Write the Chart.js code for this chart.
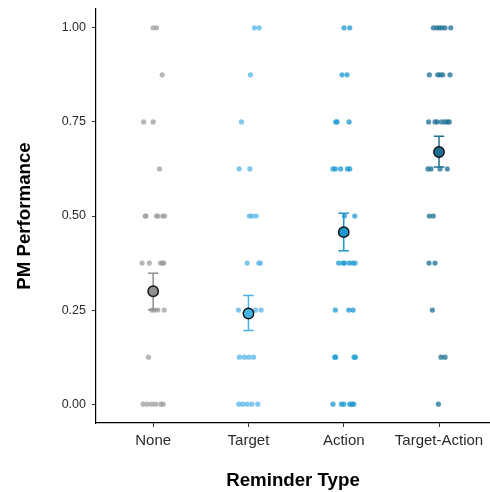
<!DOCTYPE html>
<html>
<head>
<meta charset="utf-8">
<script src="https://cdn.jsdelivr.net/npm/chart.js@4.4.1/dist/chart.umd.min.js"></script>
<style>
  html, body { margin: 0; padding: 0; background: #ffffff; }
  #wrap { width: 490px; height: 492px; }
</style>
</head>
<body>
<div id="wrap"><canvas id="myChart"></canvas></div>
<script>
// Categorías del eje X
const categories = ['None', 'Target', 'Action', 'Target-Action'];
const yTicks = [0, 0.25, 0.5, 0.75, 1];

// Puntuaciones individuales (y) y su desplazamiento horizontal (jitter) por grupo
const noneScores = [1, 1, 0.875, 0.75, 0.75, 0.625, 0.5, 0.5, 0.5, 0.5, 0.5, 0.5,
  0.375, 0.375, 0.375, 0.375, 0.375, 0.25, 0.25, 0.25, 0.25, 0.125, 0, 0, 0, 0, 0, 0];
const noneJitter = [0.0, 0.035, 0.095, -0.10, 0.0, 0.066, -0.084, -0.075, 0.035, 0.05, 0.10, 0.12,
  -0.116, -0.04, 0.077, 0.098, 0.112, -0.014, 0.01, 0.049, 0.116, -0.049, -0.105, -0.06, -0.014, 0.028, 0.08, 0.105];

const targetScores = [1, 1, 0.875, 0.75, 0.625, 0.625, 0.5, 0.5, 0.5, 0.375, 0.375, 0.375,
  0.25, 0.25, 0.25, 0.125, 0.125, 0.125, 0.125, 0, 0, 0, 0, 0];
const targetJitter = [0.063, 0.112, 0.021, -0.074, -0.098, 0.014, 0.01, 0.035, 0.081, -0.014, 0.109, 0.126,
  -0.105, 0.074, 0.133, -0.095, -0.042, 0.004, 0.053, -0.102, -0.06, -0.014, 0.035, 0.098];

const actionScores = [1, 1, 0.875, 0.875, 0.75, 0.75, 0.75, 0.625, 0.625, 0.625, 0.625, 0.625,
  0.5, 0.5, 0.375, 0.375, 0.375, 0.375, 0.375, 0.375, 0.25, 0.25, 0.25,
  0.125, 0.125, 0.125, 0.125, 0, 0, 0, 0, 0, 0];
const actionJitter = [0.003, 0.063, -0.018, 0.035, -0.084, -0.07, 0.056, -0.113, -0.088, -0.032, 0.039, 0.063,
  0.007, 0.116, -0.053, -0.007, 0.007, 0.056, 0.091, 0.119, -0.088, 0.053, 0.098,
  -0.095, -0.084, 0.108, 0.123, -0.113, -0.024, 0.0, 0.063, 0.087, 0.105];

const taScores = [1, 1, 1, 1, 1, 1, 0.875, 0.875, 0.875, 0.875, 0.875,
  0.75, 0.75, 0.75, 0.75, 0.75, 0.75, 0.75, 0.625, 0.625, 0.625, 0.625,
  0.5, 0.5, 0.375, 0.375, 0.25, 0.125, 0.125, 0];
const taJitter = [-0.06, -0.024, 0.003, 0.032, 0.063, 0.123, -0.102, -0.014, 0.011, 0.039, 0.116,
  -0.109, -0.042, -0.018, 0.028, 0.063, 0.087, 0.108, -0.116, -0.084, 0.011, 0.087,
  -0.102, -0.06, -0.105, -0.042, -0.07, 0.021, 0.063, -0.007];

// Medias y error estándar (límites inferior y superior)
const means = [0.300, 0.241, 0.457, 0.670];
const seLow = [0.251, 0.196, 0.408, 0.630];
const seHigh = [0.348, 0.289, 0.507, 0.712];

// Colores por grupo
const pointColors = ['rgba(153,153,153,0.7)', 'rgba(86,180,233,0.75)', 'rgba(26,154,208,0.75)', 'rgba(27,111,148,0.75)'];
const meanColors = ['#8f8f8f', '#45b3e6', '#1d98cf', '#1f6e93'];

const groups = [
  [noneScores, noneJitter],
  [targetScores, targetJitter],
  [actionScores, actionJitter],
  [taScores, taJitter]
];

// Construir los datasets de puntos individuales
const jitterSets = groups.map(([scores, jitter], i) => ({
  label: categories[i],
  data: scores.map((s, j) => ({ x: i + 1 + jitter[j], y: s })),
  backgroundColor: pointColors[i],
  borderColor: pointColors[i],
  borderWidth: 0,
  pointRadius: 2.6
}));

const meanSet = {
  label: 'mean',
  data: means.map((m, i) => ({ x: i + 1, y: m })),
  backgroundColor: meanColors,
  borderColor: '#111111',
  borderWidth: 1.4,
  pointRadius: 5.2
};

// Plugin para las barras de error (se dibujan justo antes de las medias)
const errorBars = {
  id: 'errorBars',
  beforeDatasetDraw(chart, args) {
    if (args.index !== 0) return;
    const { ctx, scales: { x, y } } = chart;
    ctx.save();
    ctx.lineWidth = 1.5;
    for (let i = 0; i < means.length; i++) {
      const cx = x.getPixelForValue(i + 1);
      const x0 = x.getPixelForValue(i + 1 - 0.055);
      const x1 = x.getPixelForValue(i + 1 + 0.055);
      const yl = y.getPixelForValue(seLow[i]);
      const yh = y.getPixelForValue(seHigh[i]);
      ctx.strokeStyle = meanColors[i];
      ctx.beginPath();
      ctx.moveTo(cx, yl); ctx.lineTo(cx, yh);
      ctx.moveTo(x0, yl); ctx.lineTo(x1, yl);
      ctx.moveTo(x0, yh); ctx.lineTo(x1, yh);
      ctx.stroke();
    }
    ctx.restore();
  }
};

const ctx = document.getElementById('myChart').getContext('2d');
new Chart(ctx, {
  type: 'scatter',
  data: { datasets: [meanSet, ...jitterSets] },
  options: {
    responsive: true,
    maintainAspectRatio: false,
    animation: false,
    layout: { autoPadding: false, padding: { top: 9, left: 0, right: 0, bottom: 0 } },
    plugins: { legend: { display: false }, tooltip: { enabled: false } },
    scales: {
      x: {
        type: 'linear',
        min: 0.4,
        max: 4.535,
        afterFit: (s) => { s.height = 69; s.paddingLeft = 0; s.paddingRight = 0; },
        afterBuildTicks: (s) => { s.ticks = [1, 2, 3, 4].map(v => ({ value: v })); },
        ticks: {
          callback: (v) => categories[v - 1],
          color: '#2b2b2b',
          font: { family: 'Liberation Sans, Arial, sans-serif', size: 15 },
          padding: 5,
          maxRotation: 0
        },
        grid: { drawOnChartArea: false, tickLength: 4, color: '#333333', lineWidth: 1 },
        border: { display: true, color: '#000000', width: 1.2 },
        title: {
          display: true,
          text: 'Reminder Type',
          color: '#000000',
          font: { family: 'Liberation Sans, Arial, sans-serif', size: 18.7, weight: 'bold' },
          padding: { top: 0, bottom: 0 }
        }
      },
      y: {
        type: 'linear',
        min: -0.05,
        max: 1.05,
        afterFit: (s) => { s.width = 96; s.paddingTop = 0; s.paddingBottom = 0; },
        afterBuildTicks: (s) => { s.ticks = yTicks.map(v => ({ value: v })); },
        ticks: {
          callback: (v) => v.toFixed(2),
          color: '#2b2b2b',
          font: { family: 'Liberation Sans, Arial, sans-serif', size: 12.5 },
          padding: 6
        },
        grid: { drawOnChartArea: false, tickLength: 4, color: '#333333', lineWidth: 1 },
        border: { display: true, color: '#000000', width: 1.2 },
        title: {
          display: true,
          text: 'PM Performance',
          color: '#000000',
          font: { family: 'Liberation Sans, Arial, sans-serif', size: 18.7, weight: 'bold' },
          padding: { top: 14, bottom: 0 }
        }
      }
    }
  },
  plugins: [errorBars]
});
</script>
</body>
</html>
